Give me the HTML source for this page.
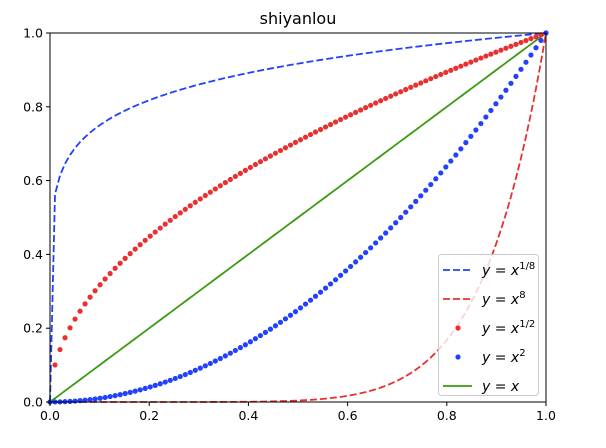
<!DOCTYPE html>
<html><head><meta charset="utf-8"><style>
body{margin:0;background:#fff;font-family:"Liberation Sans","DejaVu Sans",sans-serif}
</style></head><body>
<svg id="chart" width="606" height="443" xmlns="http://www.w3.org/2000/svg" font-family="DejaVu Sans, Liberation Sans, sans-serif">
<rect width="606" height="443" fill="#fff"/>
<text x="298" y="24" font-size="16" text-anchor="middle">shiyanlou</text>
<g id="plot"></g>
<rect x="50" y="33" width="496" height="369" fill="none" stroke="#000" stroke-width="1"/>
<g id="ticks"></g>
<g id="legend"></g>
</svg>
<script>
const nPoints = 100;
const exponents = [0.125, 8, 0.5, 2, 1];
const seriesLabels = ["1/8", "8", "1/2", "2", ""];
const seriesColors = ["#2140ff", "#e83030", "#e83030", "#2140ff", "#3a9a10"];
const seriesStyles = ["dash", "dash", "dot", "dot", "line"];
const xTicks = [0, 0.2, 0.4, 0.6, 0.8, 1.0];
const yTicks = [0, 0.2, 0.4, 0.6, 0.8, 1.0];
const xTickLabels = ["0.0", "0.2", "0.4", "0.6", "0.8", "1.0"];
const yTickLabels = ["0.0", "0.2", "0.4", "0.6", "0.8", "1.0"];

const NS = "http://www.w3.org/2000/svg";
const X0 = 50, X1 = 546, Y0 = 402, Y1 = 33;
const sx = v => X0 + v * (X1 - X0);
const sy = v => Y0 - v * (Y0 - Y1);
const xs = [];
for (let i = 0; i < nPoints; i++) xs.push(i / (nPoints - 1));
function mk(tag, attrs, parent) {
  const e = document.createElementNS(NS, tag);
  for (const k in attrs) e.setAttribute(k, attrs[k]);
  parent.appendChild(e);
  return e;
}
const plot = document.getElementById("plot");
const order = [4, 0, 1, 2, 3];
order.forEach(s => {
  const p = exponents[s];
  const ys = xs.map(x => Math.pow(x, p));
  if (seriesStyles[s] === "dot") {
    const g = mk("g", {}, plot);
    
    
    xs.forEach((x, i) => {
      const c = mk("circle", {cx: sx(x), cy: sy(ys[i]), r: 2.6, fill: seriesColors[s]}, g);
      
      
    });
  } else {
    const d = xs.map((x, i) => (i ? "L" : "M") + sx(x).toFixed(2) + "," + sy(ys[i]).toFixed(2)).join("");
    const path = mk("path", {d: d, fill: "none", stroke: seriesColors[s], "stroke-width": 1.8}, plot);
    if (seriesStyles[s] === "dash") path.setAttribute("stroke-dasharray", "7,3");
    
    
  }
});
const ticks = document.getElementById("ticks");
xTicks.forEach((v, i) => {
  mk("line", {x1: sx(v), x2: sx(v), y1: Y0, y2: Y0 + 4, stroke: "#000"}, ticks);
  const t = mk("text", {x: sx(v), y: Y0 + 18, "font-size": 12.5, "text-anchor": "middle"}, ticks);
  t.textContent = xTickLabels[i];
  
  
});
yTicks.forEach((v, i) => {
  mk("line", {x1: X0 - 4, x2: X0, y1: sy(v), y2: sy(v), stroke: "#000"}, ticks);
  const t = mk("text", {x: X0 - 7, y: sy(v) + 4.5, "font-size": 12.5, "text-anchor": "end"}, ticks);
  t.textContent = yTickLabels[i];
  
  
});
const lg = document.getElementById("legend");
mk("rect", {x: 438.5, y: 254.5, width: 100, height: 141, rx: 3, fill: "#fff", "fill-opacity": 0.8, stroke: "#ccc"}, lg);
[0, 1, 2, 3, 4].forEach((s, i) => {
  const y = 270 + i * 29;
  const g = mk("g", {}, lg);
  
  
  if (seriesStyles[s] === "dot") {
    mk("circle", {cx: 458, cy: y, r: 2.6, fill: seriesColors[s]}, g);
  } else {
    const l = mk("line", {x1: 443, x2: 472, y1: y, y2: y, stroke: seriesColors[s], "stroke-width": 1.8}, g);
    if (seriesStyles[s] === "dash") l.setAttribute("stroke-dasharray", "7,3");
  }
  const t = mk("text", {x: 482, y: y + 5, "font-size": 14, "font-style": "italic"}, g);
  t.textContent = "y = x";
  if (seriesLabels[s]) {
    const sup = mk("tspan", {dy: -6, "font-size": 10, "font-style": "normal"}, t);
    sup.textContent = seriesLabels[s];
  }
});
</script>
</body></html>
